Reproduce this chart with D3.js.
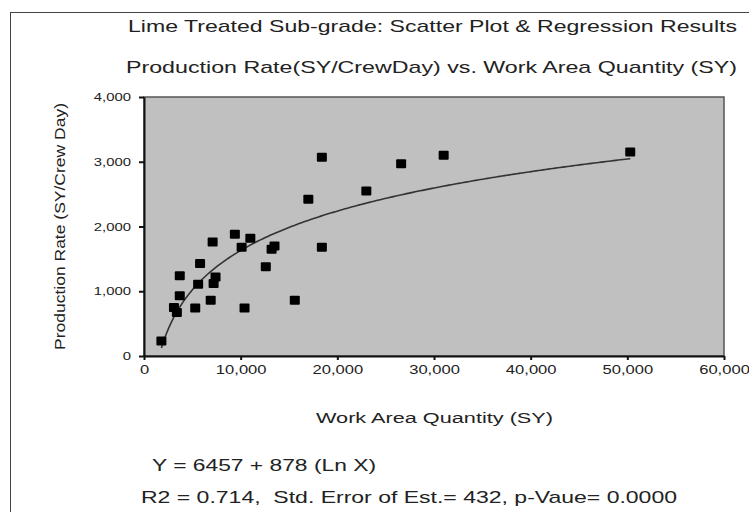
<!DOCTYPE html>
<html><head><meta charset="utf-8">
<script src="https://cdn.jsdelivr.net/npm/d3@7"></script>
<style>html,body{margin:0;padding:0;background:#fff;}svg{display:block;}text{font-family:"Liberation Sans",Arial,sans-serif;fill:#222;}</style>
</head><body>
<script>
// Data
const workArea = [1800, 3100, 3400, 3700, 3700, 5300, 5600, 5800, 6900, 7100, 7200, 7400, 9400, 10100, 10400, 11000, 12600, 13200, 13500, 15600, 17000, 18400, 18400, 23000, 26600, 31000, 50300];
const prodRate = [230, 750, 670, 930, 1240, 740, 1110, 1430, 860, 1760, 1120, 1220, 1880, 1680, 740, 1820, 1380, 1650, 1700, 860, 2420, 3070, 1680, 2550, 2970, 3100, 3150];
const xTicks = [0, 10000, 20000, 30000, 40000, 50000, 60000];
const yTicks = [0, 1000, 2000, 3000, 4000];
const intercept = -6457, slope = 878; // regression Y = a + b ln X
const fitRange = [1800, 50300];
const titles = ["Lime Treated Sub-grade: Scatter Plot & Regression Results",
                "Production Rate(SY/CrewDay) vs. Work Area Quantity (SY)"];
const xTitle = "Work Area Quantity (SY)";
const yTitle = "Production Rate (SY/Crew Day)";
const notes = ["Y = 6457 + 878 (Ln X)", "R2 = 0.714,  Std. Error of Est.= 432, p-Vaue= 0.0000"];

const W = 749, H = 512;
const svg = d3.select("body").append("svg").attr("width", W).attr("height", H);
const m = {l: 144, r: 724, t: 97, b: 356};
const x = d3.scaleLinear().domain([0, 60000]).range([m.l, m.r]);
const y = d3.scaleLinear().domain([0, 4000]).range([m.b, m.t]);

// outer frame
svg.append("rect").attr("x", 10.5).attr("y", 12.5).attr("width", 800).attr("height", 600)
  .attr("fill", "none").attr("stroke", "#444").attr("stroke-width", 1);

// plot area
svg.append("rect").attr("x", m.l).attr("y", m.t).attr("width", m.r - m.l).attr("height", m.b - m.t)
  .attr("fill", "#c0c0c0").attr("stroke", "#555").attr("stroke-width", 1.5);

function stretch(sel, len) {
  sel.attr("textLength", len).attr("lengthAdjust", "spacingAndGlyphs");
}

// axes
const xAxis = svg.append("g").attr("transform", `translate(0,${m.b})`)
  .call(d3.axisBottom(x).tickValues(xTicks).tickFormat(d3.format(",")).tickSize(4).tickSizeOuter(0));
const yAxis = svg.append("g").attr("transform", `translate(${m.l},0)`)
  .call(d3.axisLeft(y).tickValues(yTicks).tickFormat(d3.format(",")).tickSize(5).tickSizeOuter(0));
[xAxis, yAxis].forEach(g => {
  g.select(".domain").attr("stroke", "#111").attr("stroke-width", 2);
  g.selectAll(".tick line").attr("stroke", "#111").attr("stroke-width", 2);
});
xAxis.selectAll(".tick text").attr("font-size", 12).attr("fill", "#222").attr("y", 9).attr("dy", "0.71em")
  .each(function(d){ const t = d3.select(this); stretch(t, this.getComputedTextLength() * 1.38); });
yAxis.selectAll(".tick text").attr("font-size", 11).attr("fill", "#222").attr("x", -13)
  .each(function(d){ const t = d3.select(this); stretch(t, this.getComputedTextLength() * 1.35); });

// regression curve
const curvePts = d3.range(fitRange[0], fitRange[1] + 1, 250).map(v => [v, intercept + slope * Math.log(v)]);
svg.append("path").datum(curvePts)
  .attr("d", d3.line().x(d => x(d[0])).y(d => y(d[1])))
  .attr("fill", "none").attr("stroke", "#333").attr("stroke-width", 1.6);

// points
const mw = 10, mh = 9;
svg.append("g").selectAll("rect").data(workArea.map((v, i) => [v, prodRate[i]])).join("rect")
  .attr("x", d => x(d[0]) - mw / 2).attr("y", d => y(d[1]) - mh / 2)
  .attr("width", mw).attr("height", mh).attr("rx", 1).attr("fill", "#000");

// titles
svg.append("text").attr("x", 128).attr("y", 32).attr("font-size", 17).text(titles[0]).call(stretch, 609);
svg.append("text").attr("x", 126).attr("y", 73).attr("font-size", 17).text(titles[1]).call(stretch, 611);

// axis titles
svg.append("text").attr("x", 316).attr("y", 423).attr("font-size", 14).text(xTitle).call(stretch, 237);
svg.append("text").attr("transform", "translate(65,350) rotate(-90)").attr("font-size", 14).text(yTitle).call(stretch, 247);

// notes
svg.append("text").attr("x", 152).attr("y", 471).attr("font-size", 17).text(notes[0]).call(stretch, 224);
svg.append("text").attr("x", 141).attr("y", 503).attr("font-size", 17).attr("xml:space", "preserve").style("white-space", "pre").text(notes[1]).call(stretch, 536);
</script>
</body></html>
